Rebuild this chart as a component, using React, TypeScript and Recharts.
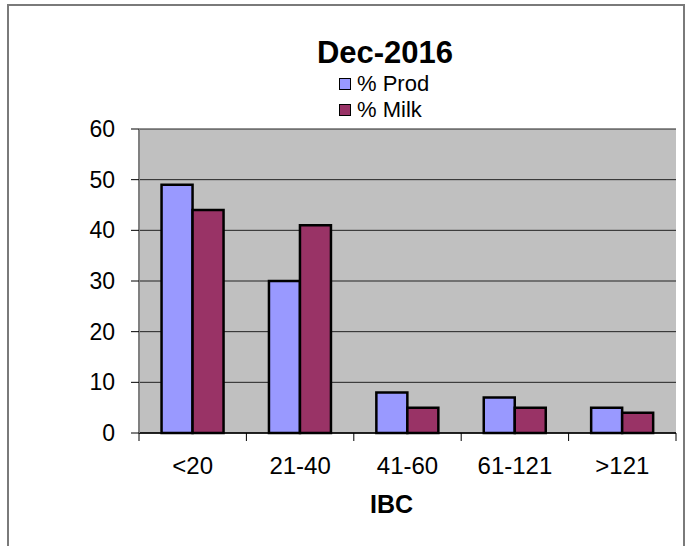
import { Bar, BarChart, CartesianGrid, Legend, XAxis, YAxis } from "recharts";

const categories = ["<20", "21-40", "41-60", "61-121", ">121"];
const prodValues = [49, 30, 8, 7, 5];
const milkValues = [44, 41, 5, 5, 4];
const yTicks = [0, 10, 20, 30, 40, 50, 60];
const seriesNames = ["% Prod", "% Milk"];
const chartTitle = "Dec-2016";
const xTitle = "IBC";

const data = categories.map((cat, i) => ({
  cat,
  prod: prodValues[i],
  milk: milkValues[i],
}));

const W = 691;
const H = 546;
const MARGIN = { top: 129, right: 15, bottom: 30, left: 79 };
const Y_AXIS_W = 60;
const X_AXIS_H = 83;
const PLOT_W = W - MARGIN.left - MARGIN.right - Y_AXIS_W;
const FONT = "'Liberation Sans', Arial, sans-serif";

function XTick(props: any) {
  const { x, y, payload, index } = props;
  const band = PLOT_W / categories.length;
  const top = y - 16;
  return (
    <g>
      <line x1={x - band / 2} x2={x - band / 2} y1={top} y2={top + 8} stroke="#000" />
      {index === categories.length - 1 && (
        <line x1={x + band / 2} x2={x + band / 2} y1={top} y2={top + 8} stroke="#000" />
      )}
      <text x={x} y={y} dy={25} textAnchor="middle" fontSize={24} fill="#000">
        {payload.value}
      </text>
    </g>
  );
}

function LegendBox(props: any) {
  // keep the series order of the original legend
  const items = [...(props.payload || [])].sort(
    (a: any, b: any) => seriesNames.indexOf(a.value) - seriesNames.indexOf(b.value)
  );
  return (
    <div style={{ position: "relative", width: W, height: 125, fontFamily: FONT, color: "#000" }}>
      <div
        style={{
          position: "absolute",
          left: 0,
          top: 37,
          width: 770,
          textAlign: "center",
          fontSize: 31,
          lineHeight: "31px",
          fontWeight: "bold",
        }}
      >
        {chartTitle}
      </div>
      {items.map((item: any, i: number) => (
        <div key={item.value} style={{ position: "absolute", left: 339, top: 73 + i * 26, height: 22 }}>
          <span
            style={{
              position: "absolute",
              left: 0,
              top: 5,
              width: 12,
              height: 12,
              boxSizing: "border-box",
              border: "1.5px solid #000",
              background: item.color,
            }}
          />
          <span
            style={{
              position: "absolute",
              left: 18,
              top: 0,
              fontSize: 22,
              lineHeight: "22px",
              whiteSpace: "nowrap",
            }}
          >
            {item.value}
          </span>
        </div>
      ))}
    </div>
  );
}

export default function App() {
  return (
    <div
      style={{
        position: "fixed",
        left: 0,
        top: 0,
        width: W,
        height: H,
        overflow: "hidden",
        background: "#fff",
        fontFamily: FONT,
      }}
    >
      <div
        style={{
          position: "absolute",
          left: 7,
          top: 4,
          width: 678,
          height: 600,
          boxSizing: "border-box",
          border: "2px solid #7a7a7a",
        }}
      />
      <BarChart
        width={W}
        height={H}
        data={data}
        margin={MARGIN}
        barCategoryGap="21%"
        barGap={0}
        style={{ position: "absolute", left: 0, top: 0 }}
      >
        <CartesianGrid vertical={false} fill="#C0C0C0" stroke="#222" strokeWidth={1} />
        <XAxis
          dataKey="cat"
          height={X_AXIS_H}
          axisLine={{ stroke: "#000", strokeWidth: 1.5 }}
          tickLine={false}
          tickSize={8}
          tickMargin={8}
          tick={<XTick />}
          interval={0}
          label={{
            value: xTitle,
            content: (p: any) => (
              <text
                x={p.viewBox.x + p.viewBox.width / 2 - 16}
                y={513}
                textAnchor="middle"
                fontSize={25}
                fontWeight="bold"
                fill="#000"
              >
                {xTitle}
              </text>
            ),
          }}
        />
        <XAxis
          xAxisId="top"
          dataKey="cat"
          orientation="top"
          height={0}
          tick={false}
          tickLine={false}
          axisLine={{ stroke: "#808080", strokeWidth: 2 }}
        />
        <YAxis
          width={Y_AXIS_W}
          domain={[0, 60]}
          ticks={yTicks}
          interval={0}
          tickSize={8}
          tickMargin={16}
          tickLine={{ stroke: "#000" }}
          axisLine={{ stroke: "#808080", strokeWidth: 2 }}
          tick={{ fontSize: 23, fill: "#000" }}
        />
        <YAxis
          yAxisId="right"
          orientation="right"
          width={0}
          domain={[0, 60]}
          tick={false}
          tickLine={false}
          axisLine={{ stroke: "#808080", strokeWidth: 2 }}
        />
        <Legend
          layout="horizontal"
          verticalAlign="middle"
          align="center"
          content={<LegendBox />}
          wrapperStyle={{ top: 0, left: 0, width: W, height: 125 }}
        />
        <Bar
          dataKey="prod"
          name={seriesNames[0]}
          fill="#9999FF"
          stroke="#000"
          strokeWidth={2.5}
          isAnimationActive={false}
        />
        <Bar
          dataKey="milk"
          name={seriesNames[1]}
          fill="#993366"
          stroke="#000"
          strokeWidth={2.5}
          isAnimationActive={false}
        />
      </BarChart>
    </div>
  );
}
